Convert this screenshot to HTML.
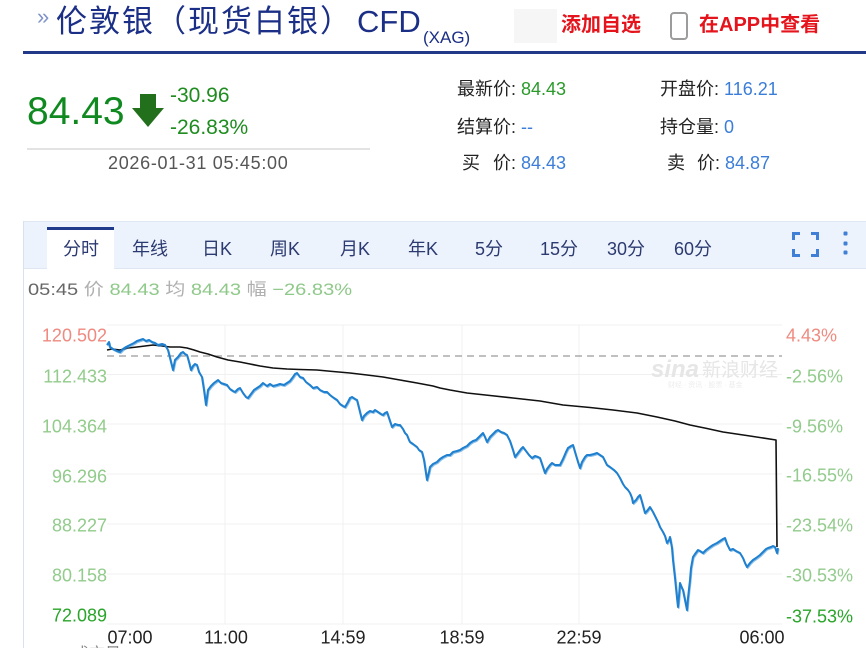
<!DOCTYPE html>
<html>
<head>
<meta charset="utf-8">
<style>
  html,body{margin:0;padding:0;background:#fff;}
  body{width:866px;height:648px;overflow:hidden;position:relative;
       font-family:"Liberation Sans","Noto Sans CJK SC",sans-serif;}
  .a{position:absolute;white-space:nowrap;}
  .tab{position:absolute;top:237px;line-height:24px;font-size:18px;color:#2b3a70;}
  .st{position:absolute;font-size:18px;line-height:22px;color:#222;white-space:nowrap;}
  .bl{color:#3b7dd8;}
  .gr{color:#2a9a2a;}
</style>
</head>
<body>

<!-- Header title -->
<div class="a" style="left:37px;top:6px;font-size:22px;line-height:22px;color:#8093c8;">»</div>
<div class="a" style="left:56px;top:5px;font-size:31px;line-height:34px;letter-spacing:2px;color:#1b2f86;">伦敦银（现货白银）</div>
<div class="a" style="left:357px;top:5px;font-size:31px;line-height:34px;color:#1b2f86;">CFD</div>
<div class="a" style="left:423px;top:28px;font-size:17px;line-height:20px;color:#1b2f86;">(XAG)</div>

<div class="a" style="left:514px;top:9px;width:43px;height:34px;background:#f6f6f6;"></div>
<div class="a" style="left:561px;top:13px;font-size:20px;line-height:24px;font-weight:bold;color:#e5131b;">添加自选</div>
<div class="a" style="left:670px;top:12px;width:14px;height:24px;border:2.5px solid #9c9c9c;border-radius:4px;background:#fff;"></div>
<div class="a" style="left:699px;top:13px;font-size:20px;line-height:24px;font-weight:bold;color:#e5131b;">在APP中查看</div>

<div class="a" style="left:23px;top:51px;width:843px;height:3px;background:#22398a;"></div>

<!-- Price block -->
<div class="a" style="left:27px;top:92px;font-size:39px;line-height:39px;color:#108a20;">84.43</div>
<svg class="a" style="left:0;top:0;" width="200" height="140">
  <rect x="140" y="94" width="16" height="15" fill="#23701c"/>
  <polygon points="132,108 164,108 148,127" fill="#23701c"/>
</svg>
<div class="a" style="left:170px;top:84px;font-size:21px;line-height:24px;color:#1e8c1e;">-30.96</div>
<div class="a" style="left:170px;top:116px;font-size:21px;line-height:24px;color:#1e8c1e;">-26.83%</div>
<div class="a" style="left:27px;top:148px;width:343px;height:2px;background:#e3e3e3;"></div>
<div class="a" style="left:108px;top:152px;font-size:18px;line-height:22px;letter-spacing:0.7px;color:#555;">2026-01-31 05:45:00</div>

<!-- Right stats -->
<div class="st" style="left:457px;top:78px;">最新价: <span class="gr">84.43</span></div>
<div class="st" style="left:660px;top:78px;">开盘价: <span class="bl">116.21</span></div>
<div class="st" style="left:457px;top:116px;">结算价: <span class="bl">--</span></div>
<div class="st" style="left:660px;top:116px;">持仓量: <span class="bl">0</span></div>
<div class="st" style="left:462px;top:152px;">买</div>
<div class="st" style="left:493px;top:152px;">价: <span class="bl">84.43</span></div>
<div class="st" style="left:667px;top:152px;">卖</div>
<div class="st" style="left:697px;top:152px;">价: <span class="bl">84.87</span></div>

<!-- Chart container border -->
<div class="a" style="left:23px;top:221px;width:1px;height:427px;background:#d8e2ef;"></div>

<!-- Tab bar -->
<div class="a" style="left:24px;top:221px;width:842px;height:46px;background:#edf3fc;border-top:1px solid #dfe7f3;border-bottom:1px solid #dfe7f3;"></div>
<div class="a" style="left:47px;top:227px;width:67px;height:42px;background:#fff;"></div>
<div class="a" style="left:47px;top:227px;width:67px;height:3px;background:#1f3a8a;"></div>
<div class="tab" style="left:63px;">分时</div>
<div class="tab" style="left:132px;">年线</div>
<div class="tab" style="left:202px;">日K</div>
<div class="tab" style="left:270px;">周K</div>
<div class="tab" style="left:340px;">月K</div>
<div class="tab" style="left:408px;">年K</div>
<div class="tab" style="left:475px;">5分</div>
<div class="tab" style="left:540px;">15分</div>
<div class="tab" style="left:607px;">30分</div>
<div class="tab" style="left:674px;">60分</div>
<svg class="a" style="left:780px;top:225px;" width="86" height="40">
  <g fill="none" stroke="#3f7fd6" stroke-width="3">
    <polyline points="13.5,15 13.5,8.5 20,8.5"/>
    <polyline points="31,8.5 37.5,8.5 37.5,15"/>
    <polyline points="13.5,24 13.5,30.5 20,30.5"/>
    <polyline points="31,30.5 37.5,30.5 37.5,24"/>
  </g>
  <g fill="#3f7fd6">
    <rect x="63.5" y="6.5" width="4" height="4" rx="1"/>
    <rect x="63.5" y="16.5" width="4" height="4" rx="1"/>
    <rect x="63.5" y="25.5" width="4" height="4" rx="1"/>
  </g>
</svg>

<!-- Info line -->
<div class="a" style="left:28px;top:279px;font-size:17px;line-height:22px;transform:scaleX(1.18);transform-origin:0 0;">
  <span style="color:#666;">05:45</span> <span style="color:#b0b0b0;">价</span> <span style="color:#8fc98a;">84.43</span> <span style="color:#b0b0b0;">均</span> <span style="color:#8fc98a;">84.43</span> <span style="color:#b0b0b0;">幅</span> <span style="color:#8fc98a;">−26.83%</span>
</div>

<!-- Chart -->
<svg class="a" style="left:0;top:0;" width="866" height="648" font-family="Liberation Sans, Noto Sans CJK SC, sans-serif">
  <defs>
    <polyline id="pl" fill="none" stroke-linejoin="round" points="107,345 109,342 110,347 113,349 117,351 120,352 123,349 126,347 130,345 134,343 137,341 140,340 143,339 146,341 149,340 152,342 155,343 158,345 162,344 165,345 168,350 170,358 173,370 175,360 178,357 181,353 183,352 185,354 187,355 189,362 191,370 193,366 195,364 197,365 199,372 202,377 204,390 206,405 208,390 211,386 214,383 218,380 221,383 224,384 227,385 230,389 233,391 235,392 238,389 240,388 243,393 246,397 248,398 251,394 254,390 257,388 260,386 263,383 267,386 270,384 273,386 277,385 280,384 284,385 287,383 290,381 293,377 295,374 297,373 300,377 303,378 306,382 310,385 313,388 317,387 320,390 324,392 327,392 330,395 334,398 337,400 340,404 343,406 345,407 348,402 350,398 352,397 355,399 357,400 359,408 362,420 364,416 367,413 370,411 373,412 375,410 378,412 381,414 383,415 385,413 387,412 389,418 392,427 395,424 398,425 400,425 403,429 405,433 407,435 409,440 410,442 413,444 417,447 419,450 422,452 424,460 427,480 429,472 430,467 433,464 437,462 440,459 443,457 447,455 450,455 453,452 457,451 460,450 463,448 467,446 470,443 473,441 476,440 480,436 483,433 485,437 487,442 490,437 493,434 496,431 498,430 501,432 504,433 507,435 510,441 513,450 515,457 518,453 521,449 523,447 526,451 529,455 532,458 535,456 538,457 540,458 542,464 545,473 547,469 550,465 552,463 555,465 557,465 560,465 563,459 566,452 568,448 571,446 573,445 575,452 578,462 580,468 582,462 585,457 587,455 590,455 594,454 597,453 600,455 603,457 605,461 607,465 610,467 614,470 617,473 620,478 623,484 625,487 628,490 630,493 632,498 633,503 636,500 638,497 640,495 642,502 645,513 647,511 650,507 653,512 656,518 658,522 660,527 663,532 665,536 667,543 669,540 670,537 672,548 673,560 675,578 677,598 678,607 679,596 680,583 682,588 683,590 685,600 687,610 688,598 690,580 691,568 693,557 695,554 698,550 700,551 703,553 706,550 710,547 713,545 717,543 720,541 723,539 725,538 727,544 730,550 733,549 736,551 740,553 743,558 745,563 747,567 750,563 753,560 756,558 760,555 763,552 766,549 768,548 771,547 773,546 775,547 777,553 778,548"/>
  </defs>
  <!-- grid -->
  <g stroke="#f0f0f0" stroke-width="1">
    <line x1="107" y1="325" x2="782" y2="325"/>
    <line x1="107" y1="374.5" x2="782" y2="374.5"/>
    <line x1="107" y1="424" x2="782" y2="424"/>
    <line x1="107" y1="474" x2="782" y2="474"/>
    <line x1="107" y1="524" x2="782" y2="524"/>
    <line x1="107" y1="574" x2="782" y2="574"/>
    <line x1="107" y1="624" x2="782" y2="624"/>
    <line x1="225" y1="325" x2="225" y2="624"/>
    <line x1="343" y1="325" x2="343" y2="624"/>
    <line x1="462" y1="325" x2="462" y2="624"/>
    <line x1="579" y1="325" x2="579" y2="624"/>
  </g>
  <!-- watermark -->
  <text x="651" y="377" font-size="24" font-weight="bold" font-style="italic" fill="#e6e6e6">sina</text>
  <text x="702" y="376" font-size="19" fill="#e6e6e6">新浪财经</text>
  <text x="668" y="387" font-size="7" fill="#ececec">财经 · 资讯 · 股票 · 基金</text>

  <!-- prev close dashed -->
  <line x1="107" y1="356" x2="782" y2="356" stroke="#9a9a9a" stroke-width="1.2" stroke-dasharray="7 5"/>

  <!-- average line -->
  <polyline fill="none" stroke="#111" stroke-width="1.6" stroke-linejoin="round" points="107,350 112,349 120,350 128,348 137,347 145,346 153,345 162,346 170,347 180,347 187,348 194,350 200,352 208,354 217,357 228,360 240,362 250,364 260,366 273,368 287,369 300,369.5 317,370 333,371.5 350,373 367,375 383,377 400,380 417,383 433,386 440,388 450,390 467,393 490,395.5 513,398 540,401 563,405 590,407.5 613,410 637,413 657,417 675,421 690,425 707,428.5 723,432 750,436 776,440 777,547"/>

  <!-- price line (with slight fuzz) -->
  <use href="#pl" stroke="#3a92d8" stroke-width="1.6" opacity="0.6" transform="translate(0.8,1.2)"/>
  <use href="#pl" stroke="#1f80cf" stroke-width="2"/>

  <!-- left axis labels -->
  <g font-size="18" text-anchor="end">
    <text x="107" y="341.4" fill="#ef8a80">120.502</text>
    <text x="107" y="382.4" fill="#92cb8c">112.433</text>
    <text x="107" y="432.4" fill="#92cb8c">104.364</text>
    <text x="107" y="482.4" fill="#92cb8c">96.296</text>
    <text x="107" y="531.4" fill="#92cb8c">88.227</text>
    <text x="107" y="581.4" fill="#92cb8c">80.158</text>
    <text x="107" y="621.4" fill="#2aa52a">72.089</text>
  </g>
  <!-- right axis labels -->
  <g font-size="18">
    <text x="786" y="341.4" fill="#ef8a80">4.43%</text>
    <text x="786" y="382.4" fill="#92cb8c">-2.56%</text>
    <text x="786" y="432.4" fill="#92cb8c">-9.56%</text>
    <text x="786" y="481.4" fill="#92cb8c">-16.55%</text>
    <text x="786" y="531.4" fill="#92cb8c">-23.54%</text>
    <text x="786" y="581.4" fill="#92cb8c">-30.53%</text>
    <text x="786" y="622.4" fill="#2aa52a">-37.53%</text>
  </g>
  <!-- x axis labels -->
  <g font-size="18" text-anchor="middle" fill="#222">
    <text x="130" y="643.4">07:00</text>
    <text x="226" y="643.4">11:00</text>
    <text x="343" y="643.4">14:59</text>
    <text x="462" y="643.4">18:59</text>
    <text x="579" y="643.4">22:59</text>
    <text x="762" y="643.4">06:00</text>
  </g>
  <!-- cut-off bottom line -->
  <text x="73" y="659" font-size="16" fill="#888">成交量 VOL: 0.00</text>
  <text x="260" y="659" font-size="16" fill="#3ba0e0">MA10: 0.00</text>
</svg>

</body>
</html>
